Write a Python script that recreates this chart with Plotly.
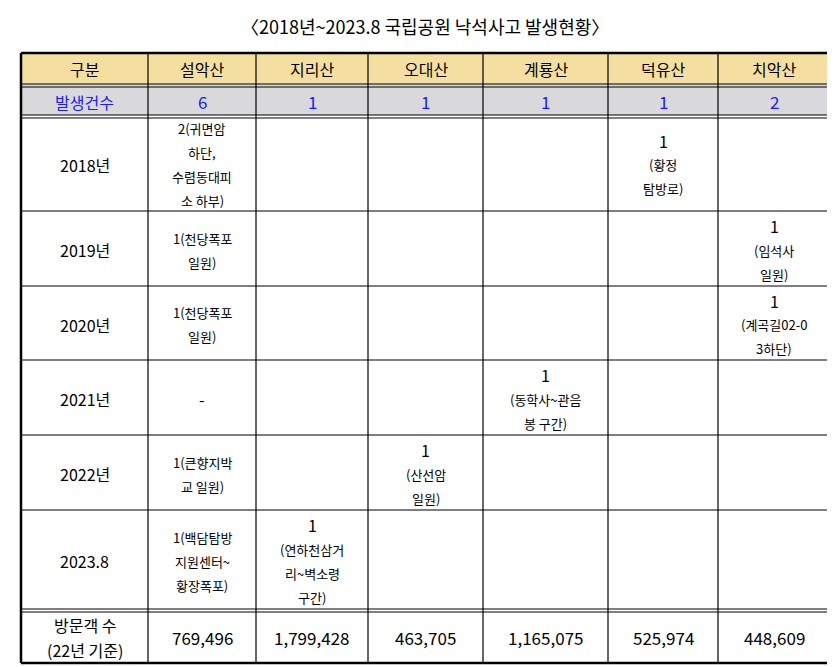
import plotly.graph_objects as go

title = "〈2018년~2023.8 국립공원 낙석사고 발생현황〉"
header = ["구분", "설악산", "지리산", "오대산", "계룡산", "덕유산", "치악산"]
count_label = "발생건수"
counts = [6, 1, 1, 1, 1, 2]
years = ["2018년", "2019년", "2020년", "2021년", "2022년", "2023.8"]
# per year, per park: list of text lines (first line is the count)
details = [
    [["2(귀면암", "하단,", "수렴동대피", "소 하부)"], None, None, None, ["1", "(황정", "탐방로)"], None],
    [["1(천당폭포", "일원)"], None, None, None, None, ["1", "(임석사", "일원)"]],
    [["1(천당폭포", "일원)"], None, None, None, None, ["1", "(계곡길02-0", "3하단)"]],
    [["-"], None, None, ["1", "(동학사~관음", "봉 구간)"], None, None],
    [["1(큰향지박", "교 일원)"], None, ["1", "(산선암", "일원)"], None, None, None],
    [["1(백담탐방", "지원센터~", "황장폭포)"], ["1", "(연하천삼거", "리~벽소령", "구간)"], None, None, None, None],
]
visitor_label = ["방문객 수", "(22년 기준)"]
visitors = [769496, 1799428, 463705, 1165075, 525974, 448609]

# grid geometry (pixels)
col_edges = [13, 140, 248, 360, 475, 600, 710, 822]
row_edges = [45, 76, 107, 203, 278, 352, 427, 502, 601, 655]
FONT = "Noto Sans CJK KR"

fig = go.Figure()
shapes, annos = [], []


def text(x, y, s, size=15, color="black"):
    annos.append(dict(x=x, y=y, text=s, showarrow=False, xref="x", yref="y",
                      font=dict(family=FONT, size=size, color=color),
                      xanchor="center", yanchor="middle"))


def lines_in_cell(cx, y0, y1, lines, gap=24, size=13):
    n = len(lines)
    mid = (y0 + y1) / 2
    for i, ln in enumerate(lines):
        y = mid + (i - (n - 1) / 2) * gap
        big = (i == 0 and ln in ("1", "2", "-"))
        text(cx, y, ln, size=16 if big else size)


# backgrounds
shapes.append(dict(type="rect", x0=col_edges[0], x1=col_edges[-1], y0=row_edges[0], y1=row_edges[1],
                   fillcolor="#f5dfa0", line_width=0, layer="below"))
shapes.append(dict(type="rect", x0=col_edges[0], x1=col_edges[-1], y0=row_edges[1], y1=row_edges[2],
                   fillcolor="#d9d9dc", line_width=0, layer="below"))

# horizontal lines
for i, y in enumerate(row_edges):
    w = 2.5 if i in (0, len(row_edges) - 1) else 1.2
    shapes.append(dict(type="line", x0=col_edges[0], x1=col_edges[-1], y0=y, y1=y,
                       line=dict(color="black", width=w)))
for y in (row_edges[1] + 3, row_edges[2] + 3, row_edges[-2] + 3):
    shapes.append(dict(type="line", x0=col_edges[0], x1=col_edges[-1], y0=y, y1=y,
                       line=dict(color="black", width=1.2)))
# vertical lines
for i, x in enumerate(col_edges):
    w = 2.5 if i in (0, len(col_edges) - 1) else 1.2
    shapes.append(dict(type="line", x0=x, x1=x, y0=row_edges[0], y1=row_edges[-1],
                       line=dict(color="black", width=w)))
# bottom page rule
shapes.append(dict(type="line", x0=0, x1=835, y0=663, y1=663, line=dict(color="#9db9d3", width=3)))

centers = [(col_edges[i] + col_edges[i + 1]) / 2 for i in range(len(col_edges) - 1)]

text(417, 18, title, size=18)
for c, h in zip(centers, header):
    text(c, (row_edges[0] + row_edges[1]) / 2, h, size=16)
text(centers[0], (row_edges[1] + row_edges[2]) / 2 + 2, count_label, size=16, color="#1a1aff")
for c, v in zip(centers[1:], counts):
    text(c, (row_edges[1] + row_edges[2]) / 2 + 2, str(v), size=17, color="#1a1aff")

for r, (yr, row) in enumerate(zip(years, details)):
    y0, y1 = row_edges[2 + r] + 3, row_edges[3 + r]
    text(centers[0], (y0 + y1) / 2, yr, size=16)
    for c, cell in zip(centers[1:], row):
        if cell:
            lines_in_cell(c, y0, y1, cell)

y0, y1 = row_edges[-2] + 3, row_edges[-1]
lines_in_cell(centers[0], y0, y1, visitor_label, gap=25, size=16)
for c, v in zip(centers[1:], visitors):
    text(c, (y0 + y1) / 2, f"{v:,}", size=17)

fig.update_layout(
    width=835, height=667, margin=dict(l=0, r=0, t=0, b=0),
    paper_bgcolor="white", plot_bgcolor="white", showlegend=False,
    xaxis=dict(range=[0, 835], visible=False, fixedrange=True),
    yaxis=dict(range=[667, 0], visible=False, fixedrange=True),
    shapes=shapes, annotations=annos,
)
fig.write_html("out.html")
